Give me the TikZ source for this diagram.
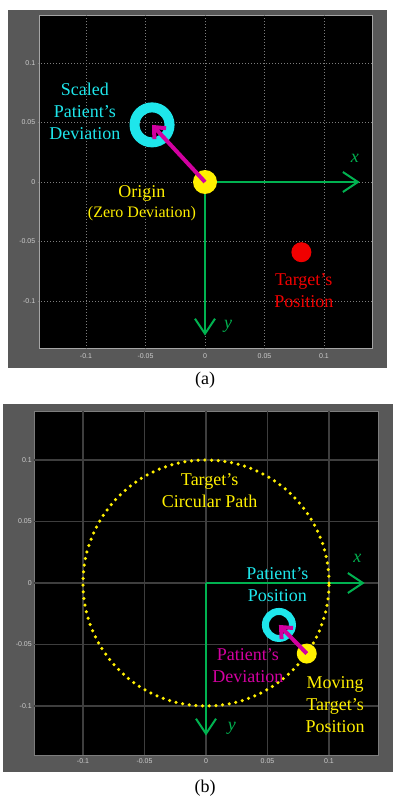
\documentclass[tikz,border=0pt]{standalone}
\usepackage{fontspec}
\setmainfont{Liberation Serif}
\setsansfont{Liberation Sans}
\usetikzlibrary{arrows.meta}
\definecolor{panelgray}{RGB}{88,88,88}
\definecolor{framegray}{RGB}{165,165,165}
\definecolor{gridgray}{RGB}{125,125,125}
\definecolor{gridgrayb}{RGB}{62,62,62}
\definecolor{tickgray}{RGB}{205,205,205}
\definecolor{axisgreen}{RGB}{0,178,80}
\definecolor{ringcyan}{RGB}{30,230,235}
\definecolor{dotyellow}{RGB}{255,240,0}
\definecolor{devmagenta}{RGB}{210,0,160}
\definecolor{targetred}{RGB}{240,0,0}
\tikzset{
  lbl/.style={font=\fontsize{18}{22}\selectfont, align=center, inner sep=0pt},
  ticklbl/.style={font=\sffamily\fontsize{7}{8}\selectfont, text=tickgray, inner sep=0pt},
  axisarrow/.style={draw=axisgreen, line width=2pt, -{Straight Barb[length=15pt,width=20pt]}},
  devarrow/.style={draw=devmagenta, line width=4pt, -{Straight Barb[length=9pt,width=16pt]}},
  ringmark/.style={circle, draw=ringcyan, inner sep=0pt, line width=#1},
  blob/.style={circle, fill=#1, inner sep=0pt},
  axlbl/.style={text=axisgreen, font=\fontsize{18}{20}\selectfont\itshape}
}
\begin{document}
\begin{tikzpicture}[x=1pt, y=-1pt]
  \useasboundingbox (0,0) rectangle (396,797);
  % panel (a)
  \fill[panelgray] (8,10) rectangle (387,368);
  \filldraw[fill=black, draw=framegray, line width=1pt] (39,16) rectangle (372,348);
  \node[font=\fontsize{18}{20}\selectfont] (capa) at (205,380) {(a)};
  \begin{scope}[shift={(205,182)}, x=11.9pt, y=11.9pt]
    \foreach \v/\t [count=\i] in {-10/-0.1,-5/-0.05,0/0,5/0.05,10/0.1} {
      \draw[gridgray, line width=0.8pt, dash pattern=on 1pt off 2pt] (\v,-14) -- (\v,14);
      \draw[gridgray, line width=0.8pt, dash pattern=on 1pt off 2pt] (-14,\v) -- (14,\v);
      \node[ticklbl, anchor=east] (yta\i) at (-14.25,\v) {\t};
      \node[ticklbl] (xta\i) at (\v,-14.6) {\t};
    }
    \coordinate (oa) at (0,0);
    \coordinate (xenda) at (13,0);
    \coordinate (yenda) at (0,-12.9);
    \draw[axisarrow] (oa) -- (xenda);
    \draw[axisarrow] (oa) -- (yenda);
    \node[axlbl] (xlbla) at (12.6,2.0) {x};
    \node[axlbl] (ylbla) at (1.95,-12.1) {y};
    \node[blob=dotyellow, minimum size=24pt] (origa) at (oa) {};
    \node[ringmark=10pt, minimum size=35pt] (ringa) at (-4.45,4.8) {};
    \draw[devarrow] (origa.center) -- (ringa.center);
    \node[blob=targetred, minimum size=20pt] (targeta) at (8.1,-5.9) {};
    \node[lbl, text=ringcyan] (scaleda) at (-10.1,5.9) {Scaled\\Patient's\\Deviation};
    \node[lbl, text=dotyellow] (origlbla) at (-5.3,-1.75) {Origin\\[-2pt]{\fontsize{16}{18}\selectfont (Zero Deviation)}};
    \node[lbl, text=targetred] (targetlbla) at (8.3,-9.1) {Target's\\Position};
  \end{scope}
  % panel (b)
  \fill[panelgray] (3,404) rectangle (393,772);
  \filldraw[fill=black, draw=gridgray, line width=1pt] (34,411) rectangle (378,755);
  \node[font=\fontsize{18}{20}\selectfont] (capb) at (205,788) {(b)};
  \begin{scope}[shift={(206,583)}, x=12.3pt, y=12.3pt]
    \foreach \v/\t [count=\i] in {-10/-0.1,-5/-0.05,0/0,5/0.05,10/0.1} {
      \draw[gridgrayb, line width=1.2pt] (\v,-14) -- (\v,14);
      \draw[gridgrayb, line width=1.2pt] (-14,\v) -- (14,\v);
      \node[ticklbl, anchor=east] (ytb\i) at (-14.15,\v) {\t};
      \node[ticklbl] (xtb\i) at (\v,-14.5) {\t};
    }
    \coordinate (ob) at (0,0);
    \coordinate (xendb) at (12.9,0);
    \coordinate (yendb) at (0,-12.4);
    \draw[axisarrow] (ob) -- (xendb);
    \draw[axisarrow] (ob) -- (yendb);
    \draw[dotyellow, line width=3.5pt, line cap=round, dash pattern=on 0pt off 6.7pt] (ob) circle[radius=10];
    \node[axlbl] (xlblb) at (12.3,2.0) {x};
    \node[axlbl] (ylblb) at (2.1,-11.8) {y};
    \node[ringmark=7pt, minimum size=27pt] (ringb) at (5.93,-3.41) {};
    \node[blob=dotyellow, minimum size=20pt] (targetb) at (-35:10) {};
    \draw[devarrow] (targetb.center) -- (ringb.center);
    \node[lbl, text=dotyellow] (pathlblb) at (0.3,7.5) {Target's\\Circular Path};
    \node[lbl, text=ringcyan] (poslblb) at (5.8,-0.1) {Patient's\\Position};
    \node[lbl, text=devmagenta] (devlblb) at (3.4,-6.7) {Patient's\\Deviation};
    \node[lbl, text=dotyellow] (movlblb) at (10.5,-9.9) {Moving\\Target's\\Position};
  \end{scope}
\end{tikzpicture}
\end{document}
